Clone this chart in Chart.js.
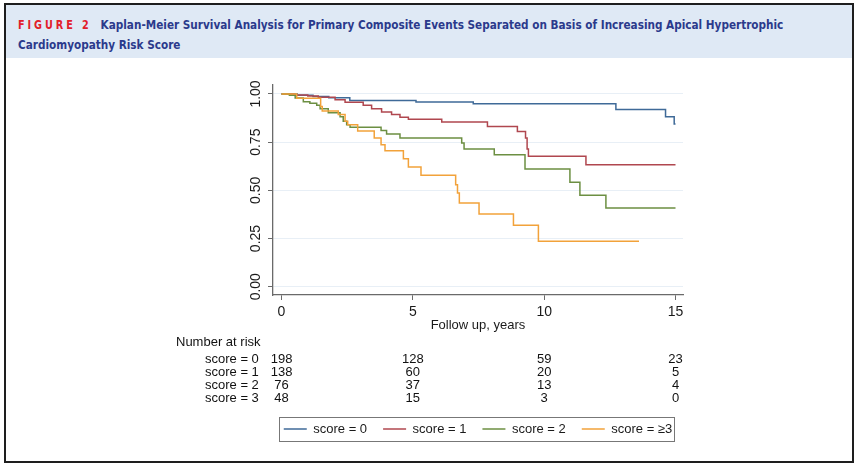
<!DOCTYPE html>
<html>
<head>
<meta charset="utf-8">
<script src="https://cdn.jsdelivr.net/npm/chart.js@4.4.1/dist/chart.umd.min.js"></script>
<style>
  html, body { margin: 0; padding: 0; background: #fff; }
  body { width: 862px; height: 474px; position: relative; overflow: hidden; }
  #chart { position: absolute; left: 0; top: 0; }
  #frame { position: absolute; left: 4px; top: 3px; width: 846px; height: 456px; border: 2px solid #1e1e1e; pointer-events: none; }
  #head { position: absolute; left: 0; top: 0; width: 846px; height: 53px; background: #dfe9f5; }
  #title { position: absolute; left: 12px; top: 10px; white-space: nowrap;
    transform: scaleX(0.896); transform-origin: 0 0;
    font-family: "DejaVu Sans Condensed", "DejaVu Sans", sans-serif;
    font-weight: bold; font-size: 13px; line-height: 19px; color: #2b3a8c; }
  #title .fig { color: #e2202a; letter-spacing: 3.3px; font-size: 12px; margin-right: 9.8px; }
</style>
</head>
<body>
<canvas id="chart" width="862" height="474"></canvas>
<div id="frame">
  <div id="head">
    <div id="title"><span class="fig">FIGURE 2</span>Kaplan-Meier Survival Analysis for Primary Composite Events Separated on Basis of Increasing Apical Hypertrophic<br>Cardiomyopathy Risk Score</div>
  </div>
</div>
<script>
// survival curves (time in years, survival after each step)
const score0Time = [0, 0.6, 1.2, 1.8, 2.6, 5.12, 7.3, 12.73, 14.62, 14.95, 15.0];
const score0Surv = [1.0, 0.993, 0.987, 0.98, 0.966, 0.958, 0.95, 0.919, 0.882, 0.844, 0.844];

const score1Time = [0, 0.5, 1.0, 1.4, 2.04, 2.42, 3.11, 3.43, 3.81, 4.19, 4.51, 4.83, 6.1, 7.84, 8.98, 9.29, 9.35, 9.4, 11.59, 15.0];
const score1Surv = [1.0, 0.995, 0.99, 0.983, 0.97, 0.957, 0.941, 0.924, 0.907, 0.893, 0.879, 0.869, 0.855, 0.832, 0.806, 0.772, 0.715, 0.677, 0.633, 0.633];

const score2Time = [0, 0.3, 0.52, 0.83, 1.08, 1.34, 1.47, 1.78, 2.23, 2.35, 2.48, 2.61, 3.79, 4.0, 4.51, 6.86, 6.95, 8.1, 9.27, 10.98, 11.36, 12.35, 15.0];
const score2Surv = [1.0, 0.993, 0.979, 0.96, 0.952, 0.941, 0.924, 0.903, 0.882, 0.858, 0.841, 0.827, 0.81, 0.792, 0.772, 0.746, 0.715, 0.685, 0.611, 0.542, 0.474, 0.408, 0.408];

const score3Time = [0, 0.58, 1.49, 1.55, 2.16, 2.42, 2.52, 2.9, 3.53, 3.79, 3.94, 4.64, 4.83, 5.31, 6.63, 6.7, 6.77, 7.52, 8.83, 9.78, 13.61];
const score3Surv = [1.0, 0.978, 0.935, 0.912, 0.893, 0.858, 0.841, 0.808, 0.772, 0.737, 0.706, 0.664, 0.621, 0.578, 0.529, 0.486, 0.434, 0.377, 0.319, 0.236, 0.236];

const seriesNames = ["score = 0", "score = 1", "score = 2", "score = \u22653"];
const seriesColors = ["#3f6a98", "#b0474f", "#6c8f42", "#f2a23a"];

// number at risk table
const riskTimes = [0, 5, 10, 15];
const riskLabels = ["score = 0", "score = 1", "score = 2", "score = 3"];
const riskScore0 = [198, 128, 59, 23];
const riskScore1 = [138, 60, 20, 5];
const riskScore2 = [76, 37, 13, 4];
const riskScore3 = [48, 15, 3, 0];

const xTicks = [0, 5, 10, 15];
const yTicks = [0, 0.25, 0.5, 0.75, 1];

const FONT = '"Liberation Sans", Arial, sans-serif';
const AXIS_GREY = "#6a6a6a";

function toPoints(t, s) {
  return t.map((v, i) => ({ x: v, y: s[i] }));
}

const curves = [
  toPoints(score0Time, score0Surv),
  toPoints(score1Time, score1Surv),
  toPoints(score2Time, score2Surv),
  toPoints(score3Time, score3Surv),
];

// risk table + legend frame
const riskTablePlugin = {
  id: "riskTable",
  afterDraw(chart) {
    const ctx = chart.ctx;
    const xs = chart.scales.x;
    const rows = [riskScore0, riskScore1, riskScore2, riskScore3];
    ctx.save();
    ctx.fillStyle = "#111";
    ctx.font = "13px " + FONT;
    ctx.textBaseline = "middle";
    ctx.textAlign = "left";
    ctx.fillText("Number at risk", 176, 342.5);
    rows.forEach((row, i) => {
      const y = 359 + i * 13.3;
      ctx.textAlign = "left";
      ctx.fillText(riskLabels[i], 205, y);
      ctx.textAlign = "center";
      row.forEach((n, j) => {
        ctx.fillText(String(n), xs.getPixelForValue(riskTimes[j]), y);
      });
    });

    // box around the legend
    const boxes = chart.legend.legendHitBoxes;
    if (boxes && boxes.length) {
      const first = boxes[0];
      const last = boxes[boxes.length - 1];
      const left = first.left - 5;
      const right = last.left + last.width + 2;
      const top = first.top - 5.5;
      ctx.strokeStyle = "#777";
      ctx.lineWidth = 1;
      ctx.strokeRect(Math.round(left) + 0.5, Math.round(top) + 0.5, Math.round(right - left), 24);
    }
    ctx.restore();
  },
};

new Chart(document.getElementById("chart"), {
  type: "line",
  data: {
    datasets: curves.map((pts, i) => ({
      label: seriesNames[i],
      data: pts,
      borderColor: seriesColors[i],
      backgroundColor: seriesColors[i],
      borderWidth: 1.5,
      stepped: true,
      pointRadius: 0,
      fill: false,
      order: 3 - i,
    })),
  },
  options: {
    responsive: false,
    animation: false,
    layout: { padding: { left: 94, right: 0, top: 85, bottom: 28.5 } },
    scales: {
      x: {
        type: "linear",
        min: -0.324,
        max: 15.285,
        afterBuildTicks: (s) => { s.ticks = xTicks.map((v) => ({ value: v })); },
        afterFit: (s) => { s.height = 111.5; },
        grid: { drawOnChartArea: false, tickLength: 5, tickColor: AXIS_GREY },
        border: { color: AXIS_GREY, width: 1.3 },
        ticks: { font: { family: FONT, size: 14 }, color: "#1a1a1a", padding: 4, maxRotation: 0 },
        title: {
          display: true,
          text: "Follow up, years",
          font: { family: FONT, size: 13 },
          color: "#1a1a1a",
          padding: { top: 0, bottom: 73.7 },
        },
      },
      y: {
        min: -0.043,
        max: 1.0467,
        afterBuildTicks: (s) => { s.ticks = yTicks.map((v) => ({ value: v })); },
        afterFit: (s) => { s.width = 179; },
        grid: { color: "#e8eff6", tickColor: AXIS_GREY, tickLength: 5, lineWidth: 1 },
        border: { color: AXIS_GREY, width: 1.3 },
        ticks: {
          font: { family: FONT, size: 14 },
          color: "#1a1a1a",
          minRotation: 90,
          maxRotation: 90,
          crossAlign: "center",
          padding: -2,
          callback: (v) => Number(v).toFixed(2),
        },
      },
      // empty right-hand spacer so the legend can be wider than the plot
      spacer: {
        type: "linear",
        position: "right",
        grid: { display: false },
        border: { display: false },
        ticks: { display: false },
        afterFit: (s) => { s.width = 179; },
      },
    },
    plugins: {
      legend: {
        position: "bottom",
        labels: {
          usePointStyle: true,
          pointStyle: "line",
          pointStyleWidth: 23,
          font: { family: FONT, size: 13 },
          color: "#1a1a1a",
          padding: 16,
          sort: (a, b) => a.datasetIndex - b.datasetIndex,
        },
      },
      tooltip: { enabled: false },
    },
  },
  plugins: [riskTablePlugin],
});
</script>
</body>
</html>
